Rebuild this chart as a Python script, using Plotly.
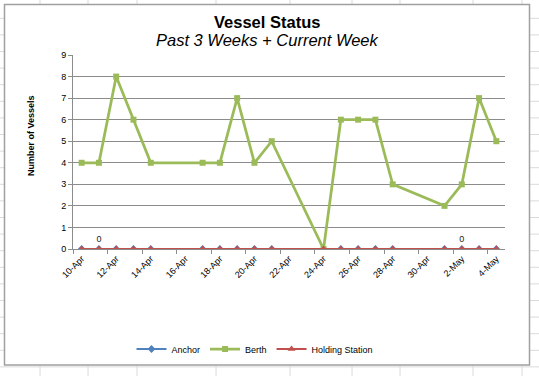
import plotly.graph_objects as go

# ---- data ----
dates = ["2013-04-10", "2013-04-11", "2013-04-12", "2013-04-13", "2013-04-14",
         "2013-04-17", "2013-04-18", "2013-04-19", "2013-04-20", "2013-04-21",
         "2013-04-24", "2013-04-25", "2013-04-26", "2013-04-27", "2013-04-28",
         "2013-05-01", "2013-05-02", "2013-05-03", "2013-05-04"]
anchor = [0] * 19
berth = [4, 4, 8, 6, 4, 4, 4, 7, 4, 5, 0, 6, 6, 6, 3, 2, 3, 7, 5]
holding = [0] * 19
anchor_labels = ["", "0", "", "", "", "", "", "", "", "", "", "", "", "", "", "", "0", "", ""]
tick_dates = ["2013-04-10", "2013-04-12", "2013-04-14", "2013-04-16", "2013-04-18",
              "2013-04-20", "2013-04-22", "2013-04-24", "2013-04-26", "2013-04-28",
              "2013-04-30", "2013-05-02", "2013-05-04"]
tick_labels = ["10-Apr", "12-Apr", "14-Apr", "16-Apr", "18-Apr", "20-Apr", "22-Apr",
               "24-Apr", "26-Apr", "28-Apr", "30-Apr", "2-May", "4-May"]

W, H = 539, 376
ML, MR, MT, MB = 73, 34, 55, 127
PW, PH = W - ML - MR, H - MT - MB

def px(x):
    return (x - ML) / PW

def py(y):
    return 1 - (y - MT) / PH

FONT = "Liberation Sans"
GRID = "#8c8c8c"

fig = go.Figure()
fig.add_trace(go.Scatter(x=dates, y=anchor, name="Anchor", mode="lines+markers+text",
                         text=anchor_labels, textposition="top center",
                         textfont=dict(size=9, color="#222"),
                         line=dict(color="#4F81BD", width=2),
                         marker=dict(symbol="diamond", size=6, color="#4F81BD")))
fig.add_trace(go.Scatter(x=dates, y=berth, name="Berth", mode="lines+markers",
                         line=dict(color="#9BBB59", width=2.75),
                         marker=dict(symbol="square", size=6, color="#9BBB59")))
fig.add_trace(go.Scatter(x=dates, y=holding, name="Holding Station", mode="lines+markers",
                         line=dict(color="#C0504D", width=2),
                         marker=dict(symbol="triangle-up", size=7, color="#C0504D")))

shapes = []
# spreadsheet cell lines behind the chart
for xv in [40, 88, 137, 216, 290, 352, 400, 473, 522]:
    shapes.append(dict(type="line", xref="paper", yref="paper", layer="below",
                       x0=px(xv), x1=px(xv), y0=py(0), y1=py(H),
                       line=dict(color="#dadada", width=1)))
yv = 18.3
while yv < H:
    shapes.append(dict(type="line", xref="paper", yref="paper", layer="below",
                       x0=px(0), x1=px(W), y0=py(yv), y1=py(yv),
                       line=dict(color="#dadada", width=1)))
    yv += 16.6
# chart area
shapes.append(dict(type="rect", xref="paper", yref="paper", layer="below",
                   x0=px(4.5), x1=px(529.5), y0=py(4.5), y1=py(365),
                   fillcolor="white", line=dict(color="#a0a0a0", width=1.5)))

annotations = [
    dict(text="<b>Vessel Status</b>", xref="paper", yref="paper", x=px(267), y=py(22),
         xanchor="center", yanchor="middle", showarrow=False,
         font=dict(family=FONT, size=16.5, color="black")),
    dict(text="<i>Past 3 Weeks + Current Week</i>", xref="paper", yref="paper",
         x=px(267), y=py(40), xanchor="center", yanchor="middle", showarrow=False,
         font=dict(family=FONT, size=16.5, color="black")),
    dict(text="<b>Number of Vessels</b>", xref="paper", yref="paper", x=px(31), y=py(136),
         xanchor="center", yanchor="middle", showarrow=False, textangle=-90,
         font=dict(family=FONT, size=9, color="black")),
]

fig.update_layout(
    width=W, height=H,
    margin=dict(l=ML, r=MR, t=MT, b=MB, pad=0),
    paper_bgcolor="white", plot_bgcolor="white",
    font=dict(family=FONT, size=9, color="black"),
    shapes=shapes, annotations=annotations,
    showlegend=True,
    legend=dict(orientation="h", x=px(255), y=py(349), xanchor="center", yanchor="middle",
                font=dict(size=9), itemwidth=30, bgcolor="rgba(0,0,0,0)",
                tracegroupgap=0),
    xaxis=dict(type="date", range=["2013-04-09 12:00", "2013-05-04 12:00"],
               tickvals=tick_dates, ticktext=tick_labels, tickangle=-45,
               ticks="", showgrid=False, showline=True, linecolor=GRID, linewidth=1,
               zeroline=False, tickfont=dict(size=9),
               minor=dict(ticks="outside", ticklen=4, tickcolor=GRID,
                          tick0="2013-04-09 12:00", dtick=172800000, showgrid=False)),
    yaxis=dict(range=[0, 9], dtick=1, showgrid=True, gridcolor=GRID, gridwidth=1,
               showline=True, linecolor=GRID, linewidth=1, ticks="outside",
               ticklen=4, tickcolor=GRID, zeroline=False, tickfont=dict(size=9)),
)

fig.write_html("out.html", config={"displayModeBar": False},
               post_script="document.body.style.margin='0';document.body.style.overflow='hidden';")
